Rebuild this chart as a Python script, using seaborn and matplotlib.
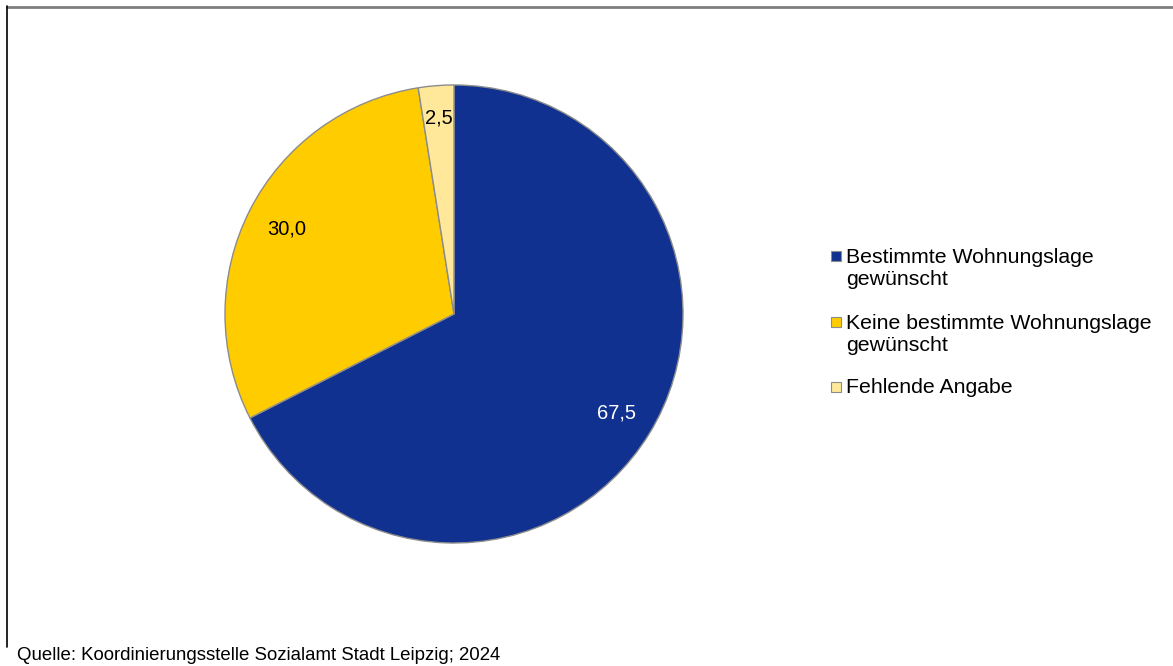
import matplotlib
matplotlib.use("Agg")
import numpy as np
import matplotlib.pyplot as plt
import seaborn as sns
from matplotlib.lines import Line2D
from matplotlib.patches import Rectangle

# Daten
kategorien = ["Bestimmte Wohnungslage\ngewünscht",
              "Keine bestimmte Wohnungslage\ngewünscht",
              "Fehlende Angabe"]
anteile = [67.5, 30.0, 2.5]
farben = ["#10318f", "#ffcc00", "#ffe899"]
label_farben = ["white", "black", "black"]
label_abstand = [0.83, 0.82, 0.86]
quelle = "Quelle: Koordinierungsstelle Sozialamt Stadt Leipzig; 2024"

sns.set_theme(style="white")
plt.rcParams['font.family'] = ['Liberation Sans', 'DejaVu Sans']

W, H = 1173, 666
fig = plt.figure(figsize=(W / 100, H / 100), dpi=100)
fig.patch.set_facecolor("white")

# Kreisdiagramm: Mitte (454, 314), Radius 229 px
cx, cy, r = 454, 314, 229
ax = fig.add_axes([(cx - r) / W, (H - cy - r) / H, 2 * r / W, 2 * r / H])
wedges, texts = ax.pie(anteile, colors=farben, startangle=90, counterclock=False,
                       radius=1, labels=[f"{v:.1f}".replace(".", ",") for v in anteile],
                       labeldistance=0.83,
                       wedgeprops=dict(edgecolor="#8c8c8c", linewidth=1))
for w, t, c, d in zip(wedges, texts, label_farben, label_abstand):
    mitte = np.deg2rad((w.theta1 + w.theta2) / 2)
    t.set_position((d * np.cos(mitte), d * np.sin(mitte)))
    t.set_color(c)
    t.set_fontsize(14.5)
    t.set_ha("center")
    t.set_va("center")
ax.set_xlim(-1, 1)
ax.set_ylim(-1, 1)
ax.set_aspect("equal")
ax.axis("off")

# Legende (Quadrat an erster Zeile ausgerichtet)
zeilenabstand = 23
baselines = [262, 328, 393]
for lab, col, yb in zip(kategorien, farben, baselines):
    n = lab.count("\n")
    fig.add_artist(Rectangle((831 / W, (H - yb + 1) / H), 10 / W, 10 / H,
                             transform=fig.transFigure, facecolor=col,
                             edgecolor="#8c8c8c", linewidth=0.8))
    fig.text(846 / W, (H - yb - n * zeilenabstand) / H, lab, fontsize=15.3,
             ha="left", va="baseline", linespacing=1.23, color="black")

# Rahmen
fig.add_artist(Line2D([6.5 / W, 1], [1 - 6.5 / H, 1 - 6.5 / H], color="#7f7f7f", linewidth=2,
                      transform=fig.transFigure))
fig.add_artist(Line2D([7 / W, 7 / W], [1 - 6 / H, 1 - 647 / H], color="black", linewidth=1.2,
                      transform=fig.transFigure))

fig.text(17 / W, (H - 660) / H, quelle, fontsize=13.4, ha="left", va="baseline", color="black")

fig.savefig("out.png", dpi=100, facecolor="white")
